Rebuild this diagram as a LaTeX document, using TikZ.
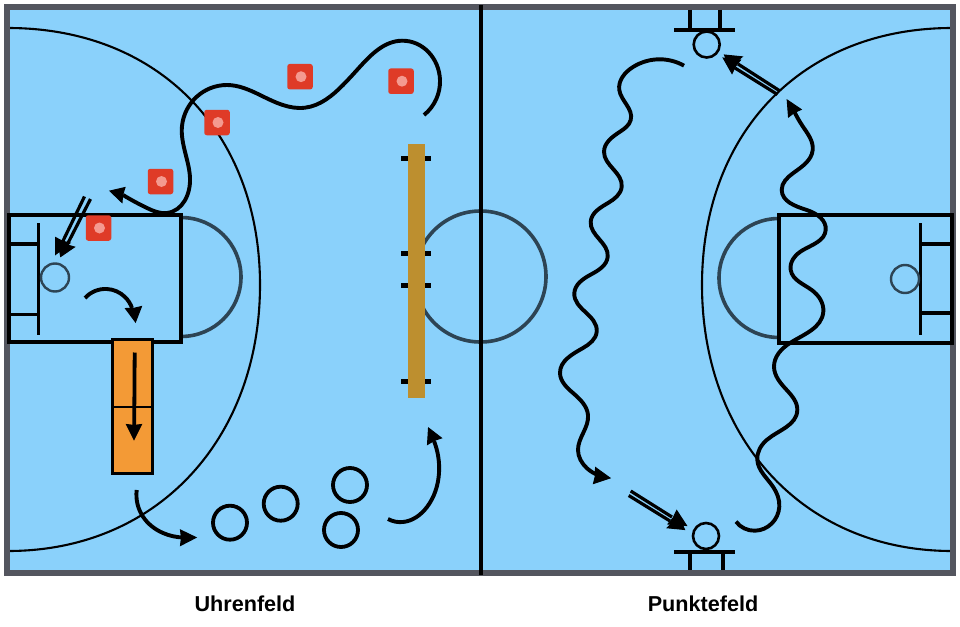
\documentclass[tikz,border=0pt]{standalone}
\usepackage{fontspec}
\setmainfont{Liberation Sans}
\usetikzlibrary{calc,hobby}
\definecolor{court}{HTML}{8AD1FB}
\definecolor{frame}{HTML}{54565F}
\definecolor{slate}{HTML}{2D4454}
\definecolor{redmark}{HTML}{DF3B27}
\definecolor{redspot}{HTML}{F49A90}
\definecolor{mat}{HTML}{F39A36}
\definecolor{bench}{HTML}{BD8F2F}
\newcommand{\headtip}[3]{\filldraw[black,line width=1pt,line join=miter] (#1) -- (#2) -- ($(#2)!.5!(#3)!.06!(#1)$) -- (#3) -- cycle;}
\tikzset{
  courtline/.style={line width=2.1pt,black},
  keybox/.style={line width=4pt,black,miter limit=10},
  slatearc/.style={line width=3.6pt,slate},
  goalline/.style={line width=3.4pt,black},
  run/.style={line width=3.9pt,black,use Hobby shortcut},
  pass/.style={line width=3.2pt,black},
  hoop/.style={circle,draw=black,line width=3.8pt,minimum size=34pt,inner sep=0pt},
  ring/.style={circle,draw=black,line width=2.6pt,minimum size=26pt,inner sep=0pt},
  smallring/.style={circle,draw=slate,line width=2.4pt,minimum size=28pt,inner sep=0pt},
  redbox/.style={rectangle,rounded corners=2.5pt,fill=redmark,minimum size=25.5pt,inner sep=0pt},
  redinner/.style={circle,fill=redspot,minimum size=11pt,inner sep=0pt},
  caption/.style={font=\fontsize{21.6pt}{24pt}\selectfont\bfseries,text=black,inner sep=0pt},
}
\begin{document}
\begin{tikzpicture}[x=1pt,y=-1pt]
\useasboundingbox (0,0) rectangle (960,626);
\fill[white] (0,0) rectangle (960,626);
% court
\fill[court] (7,7) rectangle (953,573);
% large arcs
\draw[courtline] (8,28) .. controls (159,28) and (260,133) .. (260,285) .. controls (260,437) and (159,551) .. (8,551);
\draw[courtline] (952,28) .. controls (802,28) and (702,133) .. (702,285) .. controls (702,437) and (802,551) .. (952,551);
% centre circle and half circles
\draw[slatearc] (480.5,276.5) circle[radius=65.5];
\draw[slatearc] (181,217.5) arc[start angle=90,end angle=-90,x radius=60,y radius=-59.5];
\draw[slatearc] (779,218.5) arc[start angle=90,end angle=270,x radius=60,y radius=-59.5];
% frame
\draw[frame,line width=6pt] (7,7) rectangle (953,573);
% centre line
\draw[line width=4pt,black] (480.5,5) -- (480.5,575);
% left key
\draw[keybox] (8.5,215) rectangle (181,342);
\draw[line width=2.6pt,black] (38.5,223) -- (38.5,334.5);
\draw[goalline] (9,244) -- (38,244);
\draw[goalline] (9,314.5) -- (38,314.5);
\node[smallring] (ringL) at (55,277.5) {};
% right key
\draw[keybox] (779,215) rectangle (952,342.5);
\draw[line width=2.6pt,black] (920.7,223) -- (920.7,335);
\draw[goalline] (920,244) -- (950,244);
\draw[goalline] (920,313) -- (950,313);
\node[smallring] (ringR) at (905,279) {};
% bench
\foreach \yy in {158,253.5,285.5,381} \draw[line width=5pt,black] (401.3,\yy) -- (430.7,\yy);
\fill[bench] (408,144) rectangle (425,398);
% mat
\draw[line width=2.8pt,black,fill=mat] (112.3,339.3) rectangle (152.7,473.5);
\draw[line width=2.2pt,black] (112.3,406.7) -- (152.7,406.7);
\draw[line width=3.8pt,black] (134.7,352.5) -- (134.2,426);
\headtip{134,439.5}{126.5,424.5}{141.5,424.5}
% red marks
\foreach \cx/\cy [count=\n] in {98.5/228,160.5/181.5,217/122.5,300/76.7,401/81.2}{
  \node[redbox] (red\n) at (\cx,\cy) {};
  \node[redinner] (spot\n) at (\cx+1,\cy) {};
}
% left run
\draw[run] (424,115) .. (440,80) .. (402,40.7) .. (360,66.7) .. (343,85) .. (305,107.7) .. (260,95) .. (227,85) .. (182,126) .. (190,178) .. (167,213) .. (147,208) .. (123,195);
\headtip{110,191}{125,187.5}{122,202.5}
% left small arrows
\draw[run] (85,298) .. (107,289) .. (125,297) .. (132,308);
\headtip{135.5,322}{125.5,308.5}{141.5,306.5}
\draw[pass] (84.5,196.5) -- (62,243);
\draw[pass] (90.5,199) -- (67,245);
\headtip{55.5,254.5}{55.5,237.5}{70,243}
\headtip{60.7,256.5}{57.5,240.5}{74.5,247}
\draw[run] (136.7,490) .. (143,516.7) .. (163,533) .. (184,537.5);
\headtip{196,537.5}{180.5,530}{180.5,545.5}
\draw[run] (388,519) .. (403,522) .. (427,507) .. (439,473) .. (434,441);
\headtip{428.5,428}{427.5,444.5}{441.5,438}
% hoops
\node[hoop] (h1) at (230,522.7) {};
\node[hoop] (h2) at (280.7,503.7) {};
\node[hoop] (h3) at (350,485) {};
\node[hoop] (h4) at (341,530) {};
% top goal
\draw[line width=4pt,black] (674,30) -- (735,30);
\draw[line width=4pt,black] (689.7,10) -- (689.7,30);
\draw[line width=4pt,black] (720,10) -- (720,30);
\node[ring] (topring) at (706.7,44.5) {};
% bottom goal
\draw[line width=4pt,black] (674,552) -- (735,552);
\draw[line width=4pt,black] (689.7,552) -- (689.7,570);
\draw[line width=4pt,black] (723,552) -- (723,570);
\node[ring] (botring) at (706,536) {};
% right side passes
\draw[pass] (780,91) -- (738,64);
\draw[pass] (777.5,94.5) -- (735,68);
\headtip{724.5,55}{742.2,56.8}{730,69}
\headtip{723.2,58}{740.5,60}{732,73.5}
\draw[pass] (630.7,491) -- (672,517);
\draw[pass] (628.7,495.5) -- (670,521);
\headtip{686.5,525.5}{676.7,510.5}{668,524}
\headtip{684.5,529.5}{678,514.5}{667.2,527.8}
% left wavy
\draw[run] (684,65.7) .. (660,59.3) .. (633,67) .. (619.3,90) .. (630.7,120) .. (620,131.7) .. (604,151.7) .. (621.7,186.7) .. (608,203) .. (590.7,221.7) .. (607.7,256.7) .. (590,275) .. (574.3,293.3) .. (596.7,331.7) .. (583,348) .. (560,373) .. (573,393) .. (588,415) .. (578,450) .. (586.7,468) .. (598,475);
\headtip{610,478}{595.5,467.5}{593.5,483.5}
% right wavy
\draw[run] (736,521.7) .. (755,530.7) .. (779.3,506.7) .. (773,486.7) .. (757.3,460) .. (766.7,440) .. (797.3,410) .. (786.7,390) .. (774,366.7) .. (790,343) .. (823.3,311.7) .. (811.7,290) .. (790.7,270) .. (803,250) .. (825.7,230) .. (806.7,210) .. (781.7,190) .. (793.3,173) .. (812.7,150) .. (803,126.7) .. (794,111);
\headtip{787.2,100}{801.2,109.5}{788.5,117}
% captions
\node[caption] (capL) at (245,604) {Uhrenfeld};
\node[caption] (capR) at (703,604) {Punktefeld};
\end{tikzpicture}
\end{document}
